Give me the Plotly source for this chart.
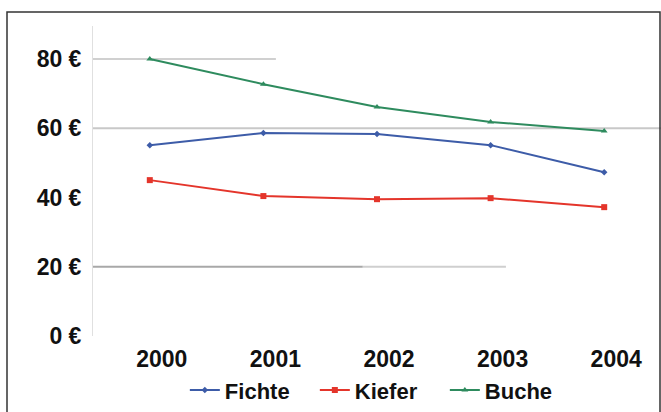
import plotly.graph_objects as go

years = ["2000", "2001", "2002", "2003", "2004"]
fichte = [55.1, 58.6, 58.3, 55.1, 47.3]
kiefer = [45.0, 40.4, 39.5, 39.8, 37.2]
buche = [80.0, 72.7, 66.1, 61.8, 59.2]
y_ticks = [0, 20, 40, 60, 80]
y_tick_labels = ["0 €", "20 €", "40 €", "60 €", "80 €"]

FONT = "Liberation Sans, Arial, sans-serif"

fig = go.Figure()
fig.add_trace(go.Scatter(x=years, y=fichte, name="Fichte", mode="lines+markers",
                         line=dict(color="#3d5ca8", width=2),
                         marker=dict(symbol="diamond", size=5, color="#3d5ca8")))
fig.add_trace(go.Scatter(x=years, y=kiefer, name="Kiefer", mode="lines+markers",
                         line=dict(color="#e4352b", width=2),
                         marker=dict(symbol="square", size=6, color="#e4352b")))
fig.add_trace(go.Scatter(x=years, y=buche, name="Buche", mode="lines+markers",
                         line=dict(color="#2e8b5e", width=2),
                         marker=dict(symbol="triangle-up", size=6, color="#2e8b5e")))

# partial (scan-like) gridlines
grid = [(80, 0.0, 0.322, "#d0d0d0"), (60, 0.0, 1.0, "#c8c8c8"),
        (20, 0.0, 0.475, "#a8a8a8"), (20, 0.475, 0.727, "#cfcfcf")]
shapes = []
for yv, x0, x1, c in grid:
    shapes.append(dict(type="line", xref="paper", yref="y", x0=x0, x1=x1, y0=yv, y1=yv,
                       line=dict(color=c, width=2), layer="below"))
# outer frame
W, H = 661, 412
ml, mr, mt, mb = 93, 0, 26, 76
pw, ph = W - ml - mr, H - mt - mb
def px(x):
    return (x - ml) / pw
def py(y):
    return (H - mb - y) / ph
shapes.append(dict(type="rect", xref="paper", yref="paper",
                   x0=px(7), x1=px(660), y0=py(420), y1=py(12),
                   line=dict(color="#333333", width=1.5), layer="above"))

fig.update_layout(
    width=W, height=H,
    margin=dict(l=ml, r=mr, t=mt, b=mb),
    paper_bgcolor="white", plot_bgcolor="white",
    font=dict(family=FONT, color="#111111"),
    shapes=shapes,
    showlegend=True,
    legend=dict(orientation="h", x=0.505, xanchor="center", y=-0.175, yanchor="middle",
                font=dict(family=FONT, size=22, weight="bold", color="#111111"),
                bgcolor="rgba(0,0,0,0)", itemwidth=30, entrywidth=85),
    xaxis=dict(type="category", range=[-0.5, 4.5], showgrid=False, zeroline=False,
               showline=False, ticks="outside", ticklen=2, tickcolor="rgba(0,0,0,0)",
               ticklabelshift=12,
               tickfont=dict(family=FONT, size=23, weight="bold", color="#111111")),
    yaxis=dict(range=[0, 89.5], tickvals=y_ticks, ticktext=y_tick_labels,
               showgrid=False, zeroline=False, showline=True, linecolor="#e0e0e0", linewidth=1,
               ticks="outside", ticklen=6, tickcolor="rgba(0,0,0,0)",
               tickfont=dict(family=FONT, size=23, weight="bold", color="#111111")),
)

fig.write_html("out.html", config={"displayModeBar": False},
               post_script="document.body.style.margin='0';")
